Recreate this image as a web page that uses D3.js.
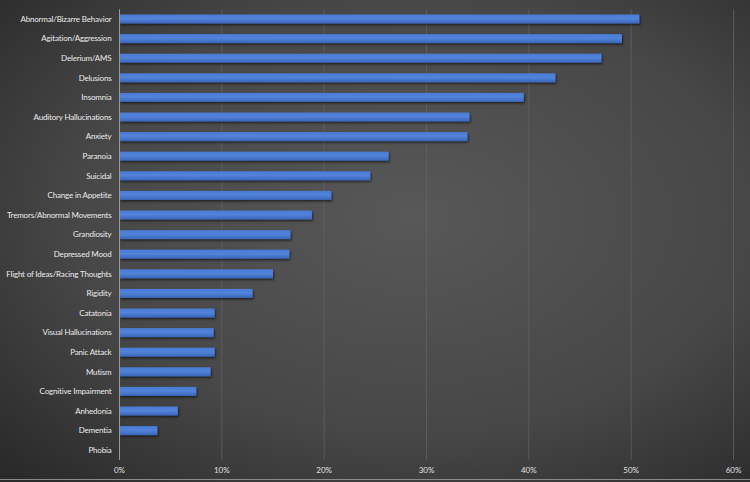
<!DOCTYPE html>
<html>
<head>
<meta charset="utf-8">
<script src="https://d3js.org/d3.v7.min.js"></script>
<style>
  body { margin: 0; background: #2b2b2b; }
  text { font-family: Lato, "Open Sans", sans-serif; }
</style>
</head>
<body>
<div id="chart"></div>
<script>
// categories top to bottom
const symptoms = [
  "Abnormal/Bizarre Behavior", "Agitation/Aggression", "Delerium/AMS", "Delusions",
  "Insomnia", "Auditory Hallucinations", "Anxiety", "Paranoia", "Suicidal",
  "Change in Appetite", "Tremors/Abnormal Movements", "Grandiosity", "Depressed Mood",
  "Flight of Ideas/Racing Thoughts", "Rigidity", "Catatonia", "Visual Hallucinations",
  "Panic Attack", "Mutism", "Cognitive Impairment", "Anhedonia", "Dementia", "Phobia"
];
// share of patients (fraction)
const shares = [
  0.508, 0.491, 0.471, 0.426, 0.395, 0.342, 0.340, 0.263, 0.245,
  0.207, 0.188, 0.167, 0.166, 0.150, 0.130, 0.093, 0.092,
  0.093, 0.089, 0.075, 0.057, 0.037, 0.0
];
const xTicks = [0, 0.1, 0.2, 0.3, 0.4, 0.5, 0.6];

const width = 750, height = 482;
const margin = {top: 9.2, right: 16.5, bottom: 22, left: 119.5};
const plotBottom = 460;

const svg = d3.select("#chart").append("svg")
  .attr("width", width)
  .attr("height", height);

const defs = svg.append("defs");
const bg = defs.append("radialGradient")
  .attr("id", "bg")
  .attr("cx", "55%").attr("cy", "45%").attr("r", "75%");
bg.append("stop").attr("offset", "0%").attr("stop-color", "#585858");
bg.append("stop").attr("offset", "60%").attr("stop-color", "#474747");
bg.append("stop").attr("offset", "100%").attr("stop-color", "#2a2a2a");

const barGrad = defs.append("linearGradient")
  .attr("id", "barGrad").attr("x1", 0).attr("y1", 0).attr("x2", 0).attr("y2", 1);
barGrad.append("stop").attr("offset", "0%").attr("stop-color", "#4a7bd4");
barGrad.append("stop").attr("offset", "45%").attr("stop-color", "#5283db");
barGrad.append("stop").attr("offset", "100%").attr("stop-color", "#3a66b8");

const shadow = defs.append("filter").attr("id", "shadow")
  .attr("x", "-5%").attr("y", "-30%").attr("width", "115%").attr("height", "180%");
shadow.append("feDropShadow")
  .attr("dx", 1).attr("dy", 1.5).attr("stdDeviation", 0.8)
  .attr("flood-color", "#000").attr("flood-opacity", 0.6);

svg.append("rect")
  .attr("width", width).attr("height", height)
  .attr("fill", "url(#bg)");

// thin frame line at the bottom
svg.append("line")
  .attr("x1", 0).attr("x2", width)
  .attr("y1", height - 2.5).attr("y2", height - 2.5)
  .attr("stroke", "#8a8a8a").attr("stroke-width", 1);

const x = d3.scaleLinear()
  .domain([0, 0.6])
  .range([margin.left, width - margin.right]);

const y = d3.scaleBand()
  .domain(symptoms)
  .range([margin.top, plotBottom])
  .paddingInner(0.54)
  .paddingOuter(0.27);

// vertical gridlines
svg.append("g")
  .selectAll("line")
  .data(xTicks.slice(1))
  .join("line")
  .attr("x1", d => x(d)).attr("x2", d => x(d))
  .attr("y1", margin.top).attr("y2", plotBottom)
  .attr("stroke", "#626262")
  .attr("stroke-width", 0.8);

// bars
svg.append("g")
  .selectAll("rect")
  .data(symptoms)
  .join("rect")
  .attr("x", x(0))
  .attr("y", d => y(d))
  .attr("width", (d, i) => x(shares[i]) - x(0))
  .attr("height", y.bandwidth())
  .attr("fill", "url(#barGrad)")
  .attr("filter", "url(#shadow)");

// vertical axis line
svg.append("line")
  .attr("x1", x(0)).attr("x2", x(0))
  .attr("y1", margin.top).attr("y2", plotBottom)
  .attr("stroke", "#9a9a9a")
  .attr("stroke-width", 1);

// category labels
svg.append("g")
  .selectAll("text")
  .data(symptoms)
  .join("text")
  .attr("x", x(0) - 8)
  .attr("y", d => y(d) + y.bandwidth() / 2)
  .attr("dy", "0.35em")
  .attr("text-anchor", "end")
  .attr("fill", "#ececec")
  .attr("font-size", 8)
  .attr("letter-spacing", -0.18)
  .text(d => d);

// x tick labels
svg.append("g")
  .selectAll("text")
  .data(xTicks)
  .join("text")
  .attr("x", d => x(d))
  .attr("y", 470)
  .attr("dy", "0.35em")
  .attr("text-anchor", "middle")
  .attr("fill", "#e0e0e0")
  .attr("font-size", 8)
  .text(d3.format(".0%"));
</script>
</body>
</html>
